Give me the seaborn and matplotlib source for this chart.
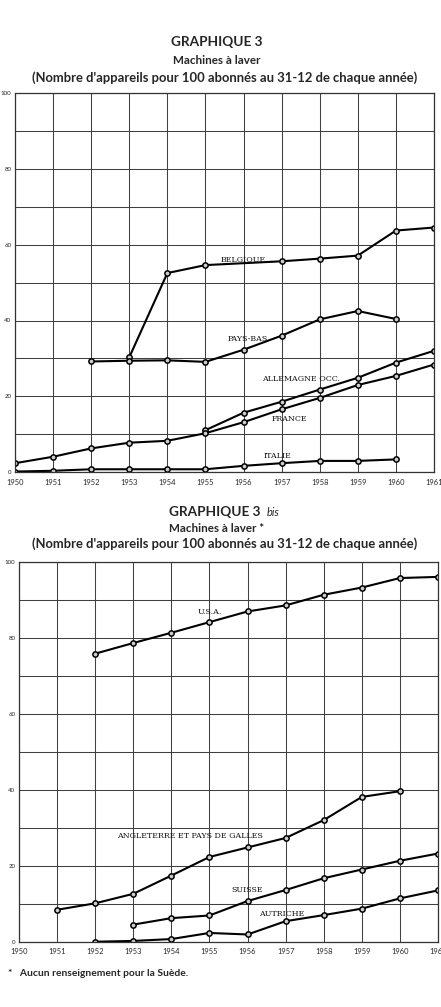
import matplotlib
matplotlib.use("Agg")
import matplotlib.pyplot as plt
import numpy as np
import pandas as pd
import seaborn as sns

# GRAPHIQUE 3 -- machines a laver, pays de la CEE
years_g3 = list(range(1950, 1962))
belgique = [None, None, None, 30.3, 52.5, 54.6, None, 55.6, 56.3, 57.1, 63.7, 64.5]
pays_bas = [None, None, 29.2, 29.4, 29.5, 29.1, 32.3, 36.0, 40.3, 42.5, 40.4, None]
allemagne = [None, None, None, None, None, 11.1, 15.7, 18.6, 21.8, 24.9, 28.9, 32.0]
france = [2.4, 4.1, 6.3, 7.8, 8.3, 10.3, 13.2, 16.6, 19.6, 23.0, 25.4, 28.4]
italie = [0.2, 0.4, 0.8, 0.8, 0.8, 0.8, 1.7, 2.4, 3.0, 3.0, 3.4, None]

# GRAPHIQUE 3 bis -- autres pays
years_g3b = list(range(1950, 1962))
usa = [None, None, 75.8, 78.6, 81.3, 84.1, 86.9, 88.5, 91.3, 93.2, 95.7, 96.0]
angleterre = [None, 8.4, 10.1, 12.6, 17.4, 22.3, 24.8, 27.3, 32.0, 38.1, 39.6, None]
suisse = [None, None, None, 4.5, 6.2, 6.9, 10.7, 13.6, 16.7, 19.0, 21.3, 23.2]
autriche = [None, None, 0.0, 0.2, 0.7, 2.3, 1.9, 5.4, 7.0, 8.7, 11.4, 13.5]

g3 = {"BELGIQUE": belgique, "PAYS-BAS": pays_bas, "ALLEMAGNE OCC.": allemagne,
      "FRANCE": france, "ITALIE": italie}
g3b = {"U.S.A.": usa, "ANGLETERRE ET PAYS DE GALLES": angleterre,
       "SUISSE": suisse, "AUTRICHE": autriche}

# where each country name is written (year, value)
labels_g3 = {"BELGIQUE": (1956.0, 56.2), "PAYS-BAS": (1956.1, 35.0),
             "ALLEMAGNE OCC.": (1957.5, 24.6), "FRANCE": (1957.2, 14.1),
             "ITALIE": (1956.9, 4.4)}
labels_g3b = {"U.S.A.": (1955.0, 86.7), "ANGLETERRE ET PAYS DE GALLES": (1954.5, 27.8),
              "SUISSE": (1956.0, 13.5), "AUTRICHE": (1956.9, 7.3)}


def long_form(years, series):
    rows = []
    for name, vals in series.items():
        for y, v in zip(years, vals):
            if v is not None:
                rows.append({"annee": y, "valeur": v, "pays": name})
    return pd.DataFrame(rows)


def draw_panel(ax, years, series, labels):
    df = long_form(years, series)
    sns.lineplot(data=df, x="annee", y="valeur", units="pays", estimator=None,
                 color="black", lw=1.5, marker="o", ms=3.8, mfc="#cccccc",
                 mec="black", mew=1.1, ax=ax, legend=False)
    for name, (x, y) in labels.items():
        ax.text(x, y, name, ha="center", va="center", fontsize=5.7,
                family="DejaVu Serif", color="#111111")
    ax.set_xlim(1950, 1961)
    ax.set_ylim(0, 100)
    ax.set_xticks(years)
    ax.set_xticklabels([str(y) for y in years], fontsize=5.4)
    ax.set_yticks([0, 20, 40, 60, 80, 100])
    ax.set_yticklabels(["0", "20", "40", "60", "80", "100"], fontsize=4.4)
    ax.set_yticks(np.arange(10, 100, 20), minor=True)
    ax.tick_params(axis="x", length=0, pad=4.5)
    ax.tick_params(axis="y", which="major", length=2, width=0.7, pad=0.5)
    ax.tick_params(axis="y", which="minor", length=0)
    ax.grid(True, which="both", color="#404040", lw=0.75)
    ax.set_axisbelow(True)
    for s in ax.spines.values():
        s.set_color("#333333")
        s.set_linewidth(0.9)
    ax.set_xlabel("")
    ax.set_ylabel("")


sns.set_style("white")
plt.rcParams["font.family"] = ["Lato", "DejaVu Sans"]

fig = plt.figure(figsize=(4.41, 10.07), dpi=100)

fig.text(0.492, 1 - 42 / 1007, "GRAPHIQUE 3", ha="center", va="center",
         fontsize=9.8, fontweight="bold")
fig.text(0.492, 1 - 60.5 / 1007, "Machines à laver", ha="center", va="center",
         fontsize=8.4, fontweight="bold")
fig.text(0.509, 1 - 77.5 / 1007,
         "(Nombre d'appareils pour 100 abonnés au 31-12 de chaque année)",
         ha="center", va="center", fontsize=9.4, fontweight="bold")

ax1 = fig.add_axes([15 / 441, 1 - 472.3 / 1007, 419 / 441, 379.5 / 1007])
draw_panel(ax1, years_g3, g3, labels_g3)

fig.text(0.487, 1 - 511.5 / 1007, "GRAPHIQUE 3", ha="center", va="center",
         fontsize=9.8, fontweight="bold")
fig.text(0.620, 1 - 512 / 1007, "bis", ha="center", va="center",
         fontsize=8, style="italic")
fig.text(0.492, 1 - 529 / 1007, "Machines à laver *", ha="center", va="center",
         fontsize=8.4, fontweight="bold")
fig.text(0.509, 1 - 543.5 / 1007,
         "(Nombre d'appareils pour 100 abonnés au 31-12 de chaque année)",
         ha="center", va="center", fontsize=9.4, fontweight="bold")

ax2 = fig.add_axes([19 / 441, 1 - 941.7 / 1007, 419 / 441, 380 / 1007])
draw_panel(ax2, years_g3b, g3b, labels_g3b)

fig.text(8 / 441, 1 - 973.5 / 1007, "*   Aucun renseignement pour la Suède.",
         ha="left", va="center", fontsize=7.4, fontweight="bold")

fig.savefig("out.png", dpi=100, facecolor="white")
